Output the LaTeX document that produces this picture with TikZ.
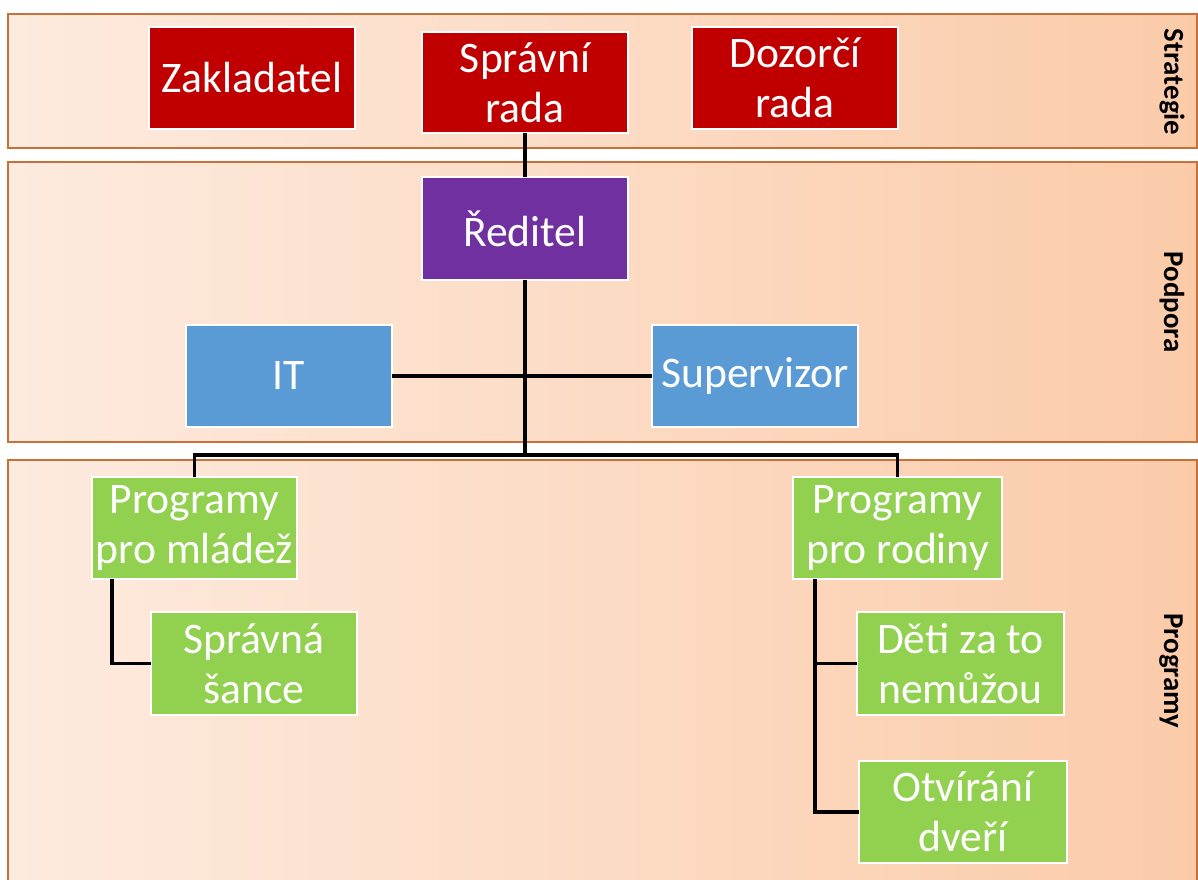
\documentclass[tikz,border=0pt]{standalone}
\usepackage{fontspec}
\setmainfont{Carlito}
\usetikzlibrary{calc}
\definecolor{bandL}{HTML}{FDEBDF}
\definecolor{bandR}{HTML}{FBCBA9}
\definecolor{bandLine}{HTML}{C8703A}
\definecolor{cRed}{HTML}{C00000}
\definecolor{cPurple}{HTML}{7030A0}
\definecolor{cBlue}{HTML}{5B9BD5}
\definecolor{cGreen}{HTML}{92D050}
\tikzset{
  band/.style={draw=bandLine, line width=0.4pt, left color=bandL, right color=bandR},
  bandlabel/.style={rotate=-90, font=\fontsize{8.2}{9}\selectfont\bfseries, text=black, inner sep=0pt},
  orgbox/.style={draw=white, line width=0.4pt, text=white, align=center, inner sep=0pt, outer sep=0pt,
    minimum width=2.06cm, minimum height=1.02cm, font=\fontsize{12.4}{14.2}\selectfont},
  conn/.style={draw=black, line width=0.9pt}
}
\begin{document}
\begin{tikzpicture}[x=0.01cm, y=-0.01cm]
\useasboundingbox (0,0) rectangle (1198,879);
% bands
\path[band] (8,14) rectangle (1197,148);
\path[band] (8,162) rectangle (1197,442);
\path[band] (8,460) rectangle (1197,882);
\node[bandlabel] (lstr) at (1172,82) {Strategie};
\node[bandlabel] (lpod) at (1172,302) {Podpora};
\node[bandlabel] (lprg) at (1171,671) {Programy};
% boxes
\node[orgbox, fill=cRed] (zak) at (252,78) {Zakladatel};
\node[orgbox, fill=cRed, minimum height=1.01cm] (spr) at (525,82.5) {Správní\\rada};
\node[orgbox, fill=cRed] (doz) at (795,78) {Dozorčí\\rada};
\node[orgbox, fill=cPurple, minimum height=1.03cm] (red) at (525,228.5) {Ředitel};
\node[orgbox, fill=cBlue] (it) at (289,376) {IT};
\node[orgbox, fill=cBlue] (sup) at (755,376) {Supervizor};
\node[orgbox, fill=cGreen, minimum width=2.05cm] (pm) at (194.5,528) {Programy\\pro mládež};
\node[orgbox, fill=cGreen, minimum height=1.03cm] (ss) at (254,663.5) {Správná\\šance};
\node[orgbox, fill=cGreen, minimum width=2.09cm] (pr) at (897.5,528) {Programy\\pro rodiny};
\node[orgbox, fill=cGreen, minimum width=2.07cm, minimum height=1.03cm] (dz) at (960.5,663.5) {Děti za to\\nemůžou};
\node[orgbox, fill=cGreen, minimum width=2.08cm] (od) at (963,812) {Otvírání\\dveří};
% connectors
\coordinate (bus) at (525,455);
\draw[conn] (spr.south) -- (red.north);
\draw[conn] (red.south) -- (bus);
\draw[conn] (it.east) -- (sup.west);
\draw[conn] (pm.north) |- (bus) -| (pr.north);
\coordinate (pmd) at ($(pm.south west)+(20,0)$);
\draw[conn] (pmd) |- (ss.west);
\coordinate (prd) at ($(pr.south west)+(22,0)$);
\draw[conn] (prd) |- (od.west);
\draw[conn] (prd |- dz.west) -- (dz.west);
\end{tikzpicture}
\end{document}
